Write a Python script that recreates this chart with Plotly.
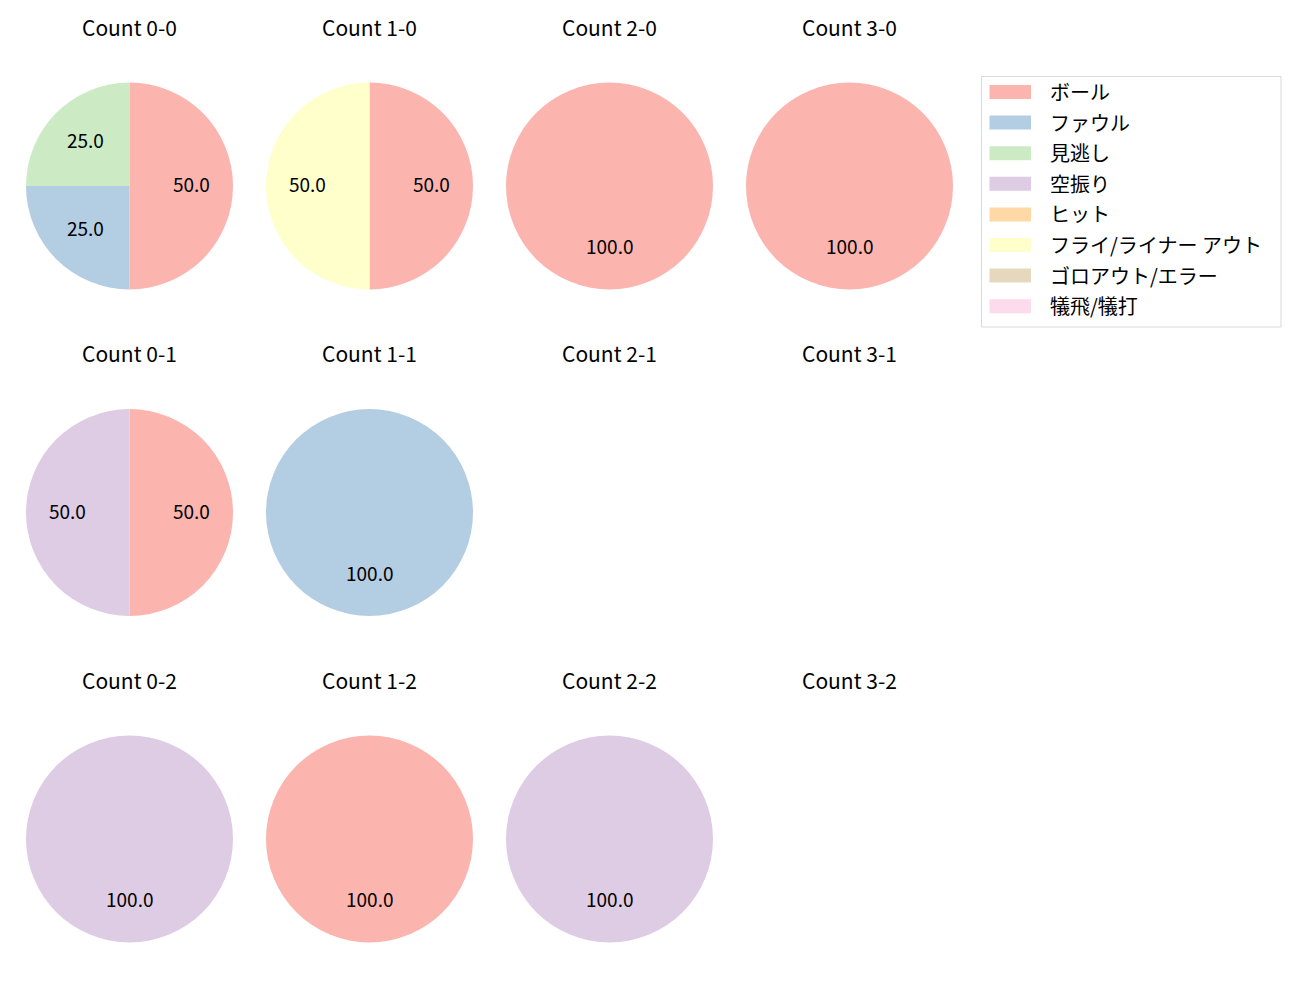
import math
import plotly.graph_objects as go

categories = ["ボール", "ファウル", "見逃し", "空振り", "ヒット", "フライ/ライナー アウト", "ゴロアウト/エラー", "犠飛/犠打"]
colors = ["#fbb4ae", "#b3cde3", "#ccebc5", "#decbe4", "#fed9a6", "#ffffcc", "#e5d8bd", "#fddaec"]

# count states: (balls, strikes) -> counts per category
counts = {
    "0-0": [2, 1, 1, 0, 0, 0, 0, 0],
    "1-0": [1, 0, 0, 0, 0, 1, 0, 0],
    "2-0": [1, 0, 0, 0, 0, 0, 0, 0],
    "3-0": [1, 0, 0, 0, 0, 0, 0, 0],
    "0-1": [1, 0, 0, 1, 0, 0, 0, 0],
    "1-1": [0, 1, 0, 0, 0, 0, 0, 0],
    "2-1": [0, 0, 0, 0, 0, 0, 0, 0],
    "3-1": [0, 0, 0, 0, 0, 0, 0, 0],
    "0-2": [0, 0, 0, 1, 0, 0, 0, 0],
    "1-2": [1, 0, 0, 0, 0, 0, 0, 0],
    "2-2": [0, 0, 0, 1, 0, 0, 0, 0],
    "3-2": [0, 0, 0, 0, 0, 0, 0, 0],
}

W, H = 1300, 1000
FONT = "Noto Sans CJK JP"
col_cx = [129.5, 369.5, 609.5, 849.5]
row_cy = [186, 512.5, 839]
R = 103.5
title_dy = 159
label_shift = -2.5

fig = go.Figure()
annotations = []
for s in range(3):
    for b in range(4):
        key = f"{b}-{s}"
        vals = counts[key]
        cx, cy = col_cx[b], row_cy[s]
        annotations.append(dict(x=cx / W, y=1 - (cy - title_dy) / H, xref="paper", yref="paper",
                                text=f"Count {key}", showarrow=False,
                                font=dict(family=FONT, size=21, color="black"),
                                xanchor="center", yanchor="middle"))
        total = sum(vals)
        if total == 0:
            continue
        fig.add_trace(go.Pie(
            labels=categories, values=vals, sort=False, direction="clockwise", rotation=0,
            marker=dict(colors=colors, line=dict(width=0)), textinfo="none", hoverinfo="label+percent",
            showlegend=False,
            domain=dict(x=[(cx - R) / W, (cx + R) / W], y=[1 - (cy + R) / H, 1 - (cy - R) / H]),
        ))
        cum = 0
        for v in vals:
            if v == 0:
                continue
            mid = (cum + v / 2) / total * 2 * math.pi
            cum += v
            tx = cx + 0.6 * R * math.sin(mid)
            ty = cy - 0.6 * R * math.cos(mid) + label_shift
            annotations.append(dict(x=tx / W, y=1 - ty / H, xref="paper", yref="paper",
                                    text=f"{100 * v / total:.1f}", showarrow=False,
                                    font=dict(family=FONT, size=19, color="black"),
                                    xanchor="center", yanchor="middle"))

# legend (drawn manually to mimic rectangular patches)
shapes = [dict(type="rect", xref="paper", yref="paper", x0=981.5 / W, x1=1281 / W,
               y0=1 - 327 / H, y1=1 - 76.5 / H, line=dict(color="#d9d9d9", width=1),
               fillcolor="rgba(255,255,255,0.8)", layer="above")]
leg_y0, leg_dy = 92, 30.6
for i, (cat, c) in enumerate(zip(categories, colors)):
    y = leg_y0 + i * leg_dy
    shapes.append(dict(type="rect", xref="paper", yref="paper", x0=989.5 / W, x1=1031 / W,
                       y0=1 - (y + 7) / H, y1=1 - (y - 7) / H, line=dict(width=0), fillcolor=c, layer="above"))
    annotations.append(dict(x=1048 / W, y=1 - (y - 0.5) / H, xref="paper", yref="paper", text=cat,
                            showarrow=False, xanchor="left", yanchor="middle",
                            font=dict(family=FONT, size=20, color="black")))

fig.update_layout(width=W, height=H, margin=dict(l=0, r=0, t=0, b=0),
                  paper_bgcolor="white", plot_bgcolor="white",
                  annotations=annotations, shapes=shapes, showlegend=False)
fig.write_html("out.html")
